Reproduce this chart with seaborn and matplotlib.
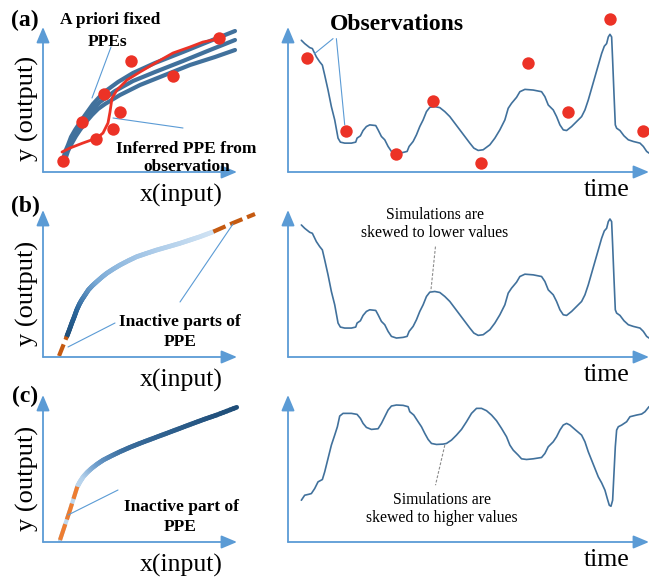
import numpy as np
import pandas as pd
import matplotlib
matplotlib.use("Agg")
import matplotlib.pyplot as plt
import seaborn as sns
from matplotlib.collections import LineCollection
from matplotlib.colors import LinearSegmentedColormap

# ---------------- data ----------------
# (a) left: a-priori fixed PPE curves (x input, y output)
ppe1_x = [20, 22, 25, 28, 32, 36, 40, 45, 50, 60, 75, 90, 112, 140, 167, 192]
ppe1_y = [12, 20, 27, 35, 42, 48, 54, 61, 68, 79, 90, 99, 109, 120, 131, 141]
ppe2_x = [21, 24, 27, 31, 35, 40, 45, 51, 57, 72, 90, 112, 140, 167, 192]
ppe2_y = [12, 21, 29, 37, 44, 51, 58, 64, 70, 81, 91, 100, 111, 122, 132]
ppe3_x = [22, 25, 29, 33, 37, 43, 49, 55, 62, 77, 97, 117, 147, 172, 192]
ppe3_y = [12, 21, 29, 36, 42, 50, 57, 63, 68, 77, 87, 95, 107, 115, 122]
# inferred PPE from observation
red_x = [19, 27, 40, 54, 60, 65, 67, 69, 74, 84, 97, 114, 130, 147, 160, 170, 177]
red_y = [20, 24, 29, 34, 39, 49, 60, 74, 82, 92, 100, 110, 119, 125, 130, 132, 134]
# observation points in input/output space
dot_x = [20, 39, 53, 61, 70, 77, 88, 130, 176]
dot_y = [11, 50, 33, 78, 43, 60, 111, 96, 134]

# simulated time series (panels a, b)
sim_t = [40, 50, 65, 73, 85, 95, 103, 110, 120, 130, 140, 150, 157, 170, 190, 203, 207, 217,
         225, 235, 245, 263, 270, 280, 290, 300, 310, 325, 345, 357, 363, 375, 385, 395, 405,
         415, 425, 440, 455, 470, 485, 500, 515, 530, 545, 557, 570, 585, 605, 620, 635, 650,
         660, 670, 685, 695, 710, 735, 760, 770, 780, 795, 805, 815, 825, 835, 850, 865, 880,
         890, 900, 910, 920, 930, 940, 948, 955, 960, 965, 970, 973, 977, 981, 985, 995, 1007,
         1020, 1035, 1055, 1065, 1075, 1082]
sim_v = [397, 387, 375, 372, 347, 332, 322, 292, 247, 197, 157, 102, 90, 87, 87, 90, 102, 109,
         125, 137, 142, 140, 127, 107, 97, 77, 62, 57, 59, 62, 77, 92, 112, 137, 157,
         182, 195, 197, 194, 182, 167, 147, 127, 107, 87, 72, 65, 67, 82, 102, 127, 157,
         192, 207, 225, 242, 249, 247, 242, 227, 202, 187, 167, 142, 127, 125, 137, 152, 167,
         187, 217, 252, 287, 322, 357, 379, 387, 407, 415, 407, 337, 237, 142, 132, 125, 109,
         97, 92, 87, 77, 62, 57]
# observations in time (panel a)
obs_t = [57, 175, 323, 435, 577, 720, 840, 965, 1063]
obs_v = [345, 124, 55, 215, 27, 330, 182, 460, 124]

# simulated time series skewed high (panel c)
hi_t = [40, 50, 63, 70, 80, 90, 103, 110, 120, 130, 140, 148, 155, 165, 190, 207, 217, 225,
        235, 250, 270, 280, 290, 300, 310, 325, 345, 360, 365, 377, 390, 400, 410, 420, 430,
        445, 465, 475, 490, 505, 520, 535, 550, 565, 580, 595, 610, 625, 640, 655, 665, 675,
        690, 700, 715, 735, 760, 770, 780, 795, 805, 815, 825, 835, 845, 860, 880, 890, 900,
        910, 920, 930, 940, 950, 957, 963, 968, 973, 977, 981, 985, 990, 1000, 1015, 1025,
        1045, 1060, 1070, 1082]
hi_v = [125, 140, 143, 145, 160, 180, 187, 210, 250, 290, 320, 345, 377, 385, 385, 382, 370,
        355, 343, 337, 339, 355, 375, 395, 407, 410, 409, 405, 390, 380, 360, 345, 325, 307, 295,
        292, 293, 295, 305, 320, 337, 360, 385, 400, 400, 393, 380, 363, 340, 315, 290, 275,
        260, 249, 247, 249, 253, 265, 285, 300, 315, 335, 350, 355, 350, 337, 320, 300, 270,
        245, 220, 195, 177, 155, 130, 110, 107, 125, 205, 285, 335, 345, 350, 360, 375,
        380, 383, 390, 405]

# (b) left: PPE with inactive ends
b_x = [23.7, 26.3, 28.7, 31.3, 33.7, 36.3, 38.7, 42, 45.3, 49.3, 53.7, 58.7, 63.7, 70.3,
       77, 85.3, 93.7, 103.7, 113.7, 125.3, 137, 147, 157, 170.3]
b_y = [20.3, 27, 33.7, 40.3, 47, 52.7, 57, 62, 67, 71.3, 75.3, 79.7, 83.7, 88,
       92, 96.3, 100.3, 103.7, 107, 110.3, 113.7, 117, 120.3, 125.3]
b_low_x = [16, 23.7]
b_low_y = [1, 20.3]
b_high_x = [170.3, 190, 212]
b_high_y = [125.3, 134, 143]
# (c) left: PPE with inactive lower end
c_x = [34.3, 37, 40.3, 44.3, 48.7, 54.3, 60.3, 68.7, 77, 87, 97, 110.3, 123.7, 137,
       150.3, 162, 173.7, 193.7]
c_y = [55.3, 60.3, 65.3, 69.7, 73.7, 78, 82, 86.3, 90.3, 94.7, 98.7, 103.7, 108.7, 113.7,
       118.7, 123, 127, 134.7]
c_low_x = [17, 22, 27, 34.3]
c_low_y = [2, 17, 32, 55.3]

# ---------------- style ----------------
sns.set_theme(style="white")
plt.rcParams["font.family"] = ["Liberation Serif", "DejaVu Serif"]

W, H = 649, 581
AXC = "#5b9bd5"
LINE = "#41719c"
RED = "#ec3226"
ORANGE_D = "#c55a11"
ORANGE = "#ed7d31"

fig = plt.figure(figsize=(W / 100, H / 100), dpi=100)


def ax_at(x0, yb, x1, yt, xlim, ylim):
    ax = fig.add_axes([x0 / W, 1 - yb / H, (x1 - x0) / W, (yb - yt) / H])
    ax.set_xlim(*xlim)
    ax.set_ylim(*ylim)
    ax.set_axis_off()
    for xy in [(0, 1), (1, 0)]:
        ax.annotate("", xy=xy, xytext=(0, 0), xycoords="axes fraction",
                    textcoords="axes fraction", annotation_clip=False,
                    arrowprops=dict(arrowstyle="-|>,head_length=0.95,head_width=0.4",
                                    color=AXC, lw=1.3, shrinkA=0, shrinkB=0,
                                    mutation_scale=10))
    return ax


def ftxt(x, y, s, size, bold=False, **kw):
    fig.text(x / W, 1 - y / H, s, ha="center", va="center", fontsize=size,
             fontweight="bold" if bold else "normal", color="black", **kw)


def leader(ax, xs, ys, dashed=False):
    if dashed:
        ax.plot(xs, ys, color="#8c8c8c", lw=0.8, ls=(0, (2.5, 1.5)), clip_on=False)
    else:
        ax.plot(xs, ys, color=AXC, lw=0.8, clip_on=False)


def gradient(ax, xs, ys, stops, lw=3.4, sub=6):
    cmap = LinearSegmentedColormap.from_list("g", stops)
    segs, cols = [], []
    n = len(xs) - 1
    for i in range(n):
        for k in range(sub):
            f0, f1 = k / sub, (k + 1) / sub
            p0 = (xs[i] + (xs[i + 1] - xs[i]) * f0, ys[i] + (ys[i + 1] - ys[i]) * f0)
            p1 = (xs[i] + (xs[i + 1] - xs[i]) * f1, ys[i] + (ys[i + 1] - ys[i]) * f1)
            segs.append([p0, p1])
            cols.append(cmap((i + (k + 0.5) / sub) / n))
    lc = LineCollection(segs, colors=cols, linewidths=lw, capstyle="round", clip_on=False)
    ax.add_collection(lc)


LX = (0, 194)
RX = (0, 1082)

# ---------- (a) left ----------
axa = ax_at(43, 172, 237, 27, LX, (0, 145))
for xs, ys in [(ppe1_x, ppe1_y), (ppe2_x, ppe2_y), (ppe3_x, ppe3_y)]:
    sns.lineplot(x=xs, y=ys, ax=axa, color=LINE, lw=3.0, sort=False, estimator=None,
                 clip_on=False, solid_capstyle="round")
sns.lineplot(x=red_x, y=red_y, ax=axa, color=RED, lw=2.0, sort=False, estimator=None,
             clip_on=False)
sns.scatterplot(x=dot_x, y=dot_y, ax=axa, color=RED, s=80, linewidth=0, clip_on=False,
                zorder=5)
leader(axa, [68, 49], [125, 74])
leader(axa, [140, 70], [44, 54])

# ---------- (a) right ----------
axar = ax_at(288, 172, 649, 27, RX, (0, 437))
sns.lineplot(x=sim_t, y=sim_v, ax=axar, color=LINE, lw=1.2, sort=False, estimator=None)
sns.scatterplot(x=obs_t, y=obs_v, ax=axar, color=RED, s=80, linewidth=0, clip_on=False,
                zorder=5)
leader(axar, [135, 80], [402, 357])
leader(axar, [145, 170], [402, 142])

# ---------- (b) left ----------
axb = ax_at(43, 357, 237, 210, LX, (0, 147))
gradient(axb, b_x, b_y, [(0, "#1f4e79"), (0.18, "#2a659b"), (0.45, "#7aaad6"),
                         (0.75, "#a8c9e8"), (1.0, "#cfe2f3")])
sns.lineplot(x=b_low_x, y=b_low_y, ax=axb, color=ORANGE_D, lw=3.0, sort=False,
             estimator=None, ls=(0, (3, 1.2)), clip_on=False)
sns.lineplot(x=b_high_x, y=b_high_y, ax=axb, color=ORANGE_D, lw=3.0, sort=False,
             estimator=None, ls=(0, (3.2, 1.2)), clip_on=False)
leader(axb, [72, 25], [34, 10])
leader(axb, [137, 190], [55, 133])

# ---------- (b) right ----------
axbr = ax_at(288, 357, 649, 210, RX, (0, 442))
sns.lineplot(x=sim_t, y=sim_v, ax=axbr, color=LINE, lw=1.2, sort=False, estimator=None)
leader(axbr, [442, 428], [332, 197], dashed=True)

# ---------- (c) left ----------
axc = ax_at(43, 542, 237, 395, LX, (0, 147))
gradient(axc, c_x, c_y, [(0, "#bdd7ee"), (0.12, "#b5d2ec"), (0.3, "#6d9dcc"),
                         (0.5, "#3b6e9e"), (1.0, "#1f4e79")])
sns.lineplot(x=c_low_x, y=c_low_y, ax=axc, color="#bdd7ee", lw=3.0, sort=False,
             estimator=None, clip_on=False)
sns.lineplot(x=c_low_x, y=c_low_y, ax=axc, color=ORANGE, lw=3.0, sort=False,
             estimator=None, ls=(0, (4, 1.2)), clip_on=False)
leader(axc, [75, 25], [52, 27])

# ---------- (c) right ----------
axcr = ax_at(288, 542, 649, 395, RX, (0, 440))
sns.lineplot(x=hi_t, y=hi_v, ax=axcr, color=LINE, lw=1.2, sort=False, estimator=None)
leader(axcr, [470, 442], [290, 170], dashed=True)

# ---------- texts ----------
for lab, y in [("(a)", 20), ("(b)", 206), ("(c)", 396)]:
    ftxt(25, y, lab, 17, bold=True)
for yb in [172, 357, 542]:
    ftxt(181, yb + 23, "x(input)", 18.5)
    ftxt(607, yb + 18, "time", 18.5)
    ftxt(27, yb - 64, "y (output)", 19, rotation=90)

ftxt(110, 20, "A priori fixed", 12.5, bold=True)
ftxt(108, 42, "PPEs", 12.5, bold=True)
ftxt(397, 25, "Observations", 17, bold=True)
ftxt(186, 149, "Inferred PPE from", 12.5, bold=True)
ftxt(187, 167, "observation", 12.5, bold=True)
ftxt(180, 322, "Inactive parts of", 12.5, bold=True)
ftxt(180, 342, "PPE", 12.5, bold=True)
ftxt(181, 507, "Inactive part of", 12.5, bold=True)
ftxt(180, 527, "PPE", 12.5, bold=True)
ftxt(435, 215, "Simulations are", 11.3)
ftxt(435, 233, "skewed to lower values", 11.3)
ftxt(442, 500, "Simulations are", 11.3)
ftxt(442, 518, "skewed to higher values", 11.3)

fig.savefig("out.png", dpi=100)
